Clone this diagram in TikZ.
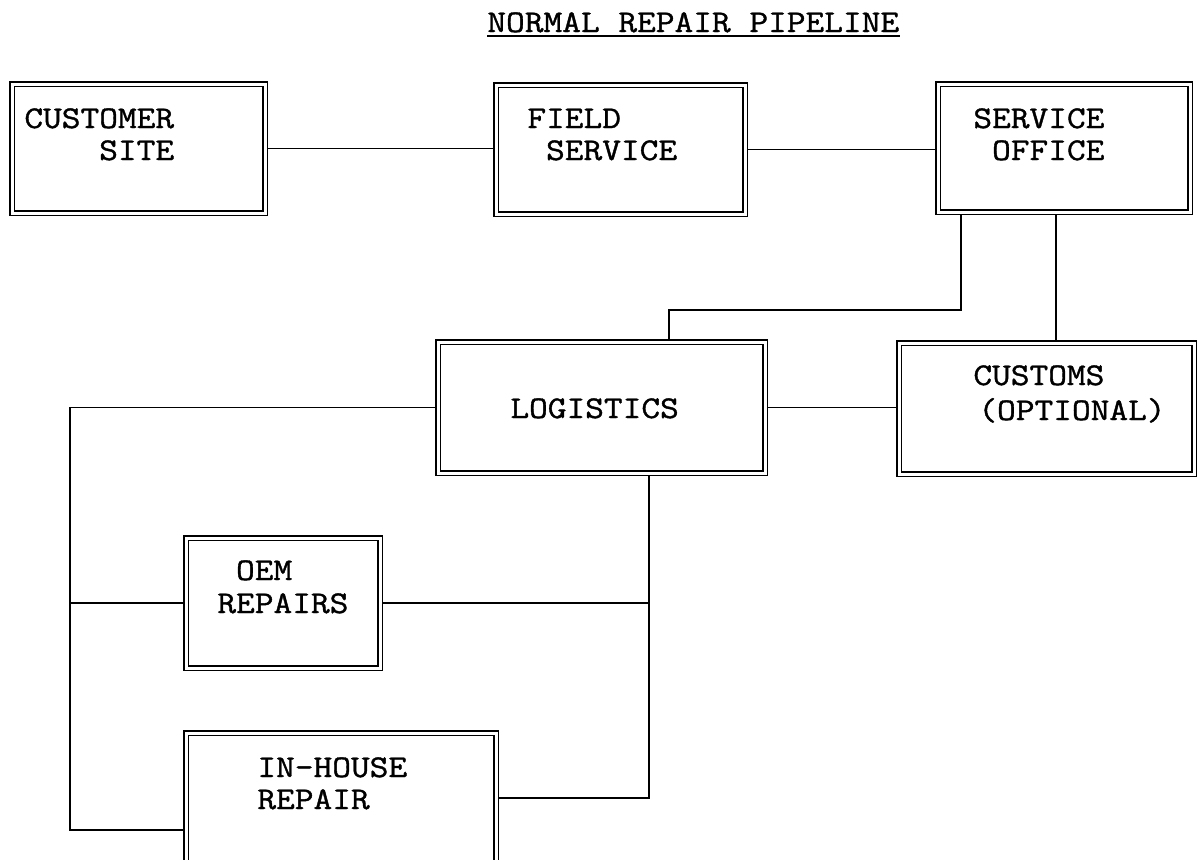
\documentclass[tikz,border=0pt]{standalone}
\usepackage{fontspec}
\newfontfamily\tw{Latin Modern Mono}[FakeStretch=1.15,FakeBold=1.2]
\usetikzlibrary{fit,backgrounds}
\begin{document}
\begin{tikzpicture}[x=0.5pt,y=-0.5pt,
  dbox/.style={draw, line width=0.95pt, double=white, double distance=1.5pt, inner sep=0pt},
  lbl/.style={anchor=base west, inner sep=0pt, font=\tw\fontsize{15.8}{16}\selectfont},
  conn/.style={draw, line width=0.85pt}]
\useasboundingbox (0,0) rectangle (1200,859);
\clip (0,0) rectangle (1200,859);

% title
\node[lbl] (title) at (487,32) {NORMAL REPAIR PIPELINE};
\draw[line width=0.9pt] ([yshift=-1.8pt]title.base west) -- ([yshift=-1.8pt]title.base east);

% box corners
\coordinate (c1a) at (12,84);   \coordinate (c1b) at (265,213);
\coordinate (c2a) at (496,85);  \coordinate (c2b) at (745,214);
\coordinate (c3a) at (938,84);  \coordinate (c3b) at (1190,212);
\coordinate (c4a) at (438,342); \coordinate (c4b) at (765,473);
\coordinate (c5a) at (899,343); \coordinate (c5b) at (1194,474);
\coordinate (c6a) at (186,538); \coordinate (c6b) at (380,668);
\coordinate (c7a) at (186,733); \coordinate (c7b) at (496,897);

% boxes
\node[dbox, fit=(c1a) (c1b)] (cust) {};
\node[dbox, fit=(c2a) (c2b)] (field) {};
\node[dbox, fit=(c3a) (c3b)] (so) {};
\node[dbox, fit=(c4a) (c4b)] (log) {};
\node[dbox, fit=(c5a) (c5b)] (cus) {};
\node[dbox, fit=(c6a) (c6b)] (oem) {};
\node[dbox, fit=(c7a) (c7b)] (inh) {};

% labels
\node[lbl] (tcust) at (24,128) {\begin{tabular}[t]{@{}l@{}}CUSTOMER\\\phantom{XXXX}SITE\end{tabular}};
\node[lbl] (tfield) at (527,128) {\begin{tabular}[t]{@{}l@{}}FIELD\\\phantom{X}SERVICE\end{tabular}};
\node[lbl] (tso) at (973,128) {\begin{tabular}[t]{@{}l@{}}SERVICE\\\phantom{X}OFFICE\end{tabular}};
\node[lbl] (tlog) at (510,418) {LOGISTICS};
\node[lbl] (tcus) at (973,385) {\begin{tabular}[t]{@{}l@{}}CUSTOMS\\[1.5pt]\hspace{2.5pt}(OPTIONAL)\end{tabular}};
\node[lbl] (toem) at (217,580) {\begin{tabular}[t]{@{}l@{}}\phantom{X}OEM\\[0.5pt]REPAIRS\end{tabular}};
\node[lbl] (tinh) at (257,777) {\begin{tabular}[t]{@{}l@{}}IN-HOUSE\\REPAIR\end{tabular}};

% junction coordinates
\coordinate (j1) at (961,310);
\coordinate (j2) at (669,310);
\coordinate (j3) at (1056,310);
\coordinate (lb) at (70,830);
\coordinate (rb) at (649,798);

\begin{pgfonlayer}{background}
\draw[conn] (cust.east) -- (cust.east -| field.west);
\draw[conn] (field.east) -- (field.east -| so.west);
\draw[conn] (so.south -| j1) -- (j1) -- (j2) -- (log.north -| j2);
\draw[conn] (so.south -| j3) -- (cus.north -| j3);
\draw[conn] (log.east) -- (log.east -| cus.west);
\draw[conn] (log.west) -| (lb) -- (lb -| inh.west);
\draw[conn] (oem.west) -- (oem.west -| lb);
\draw[conn] (log.south -| rb) -- (rb) -- (rb -| inh.east);
\draw[conn] (oem.east) -- (oem.east -| rb);
\end{pgfonlayer}
\end{tikzpicture}
\end{document}
